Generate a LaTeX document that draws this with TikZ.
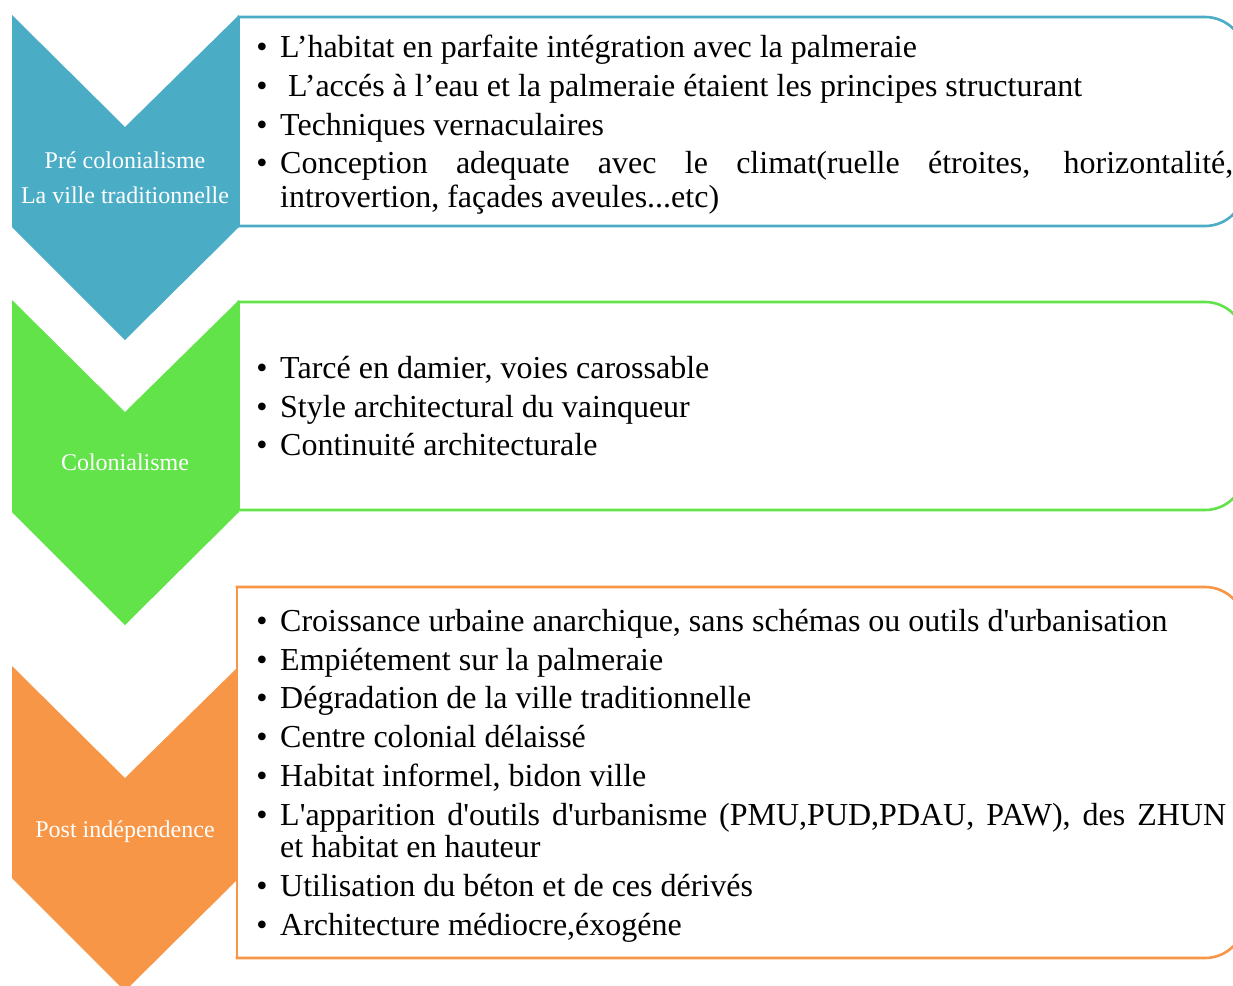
\documentclass[tikz,border=0pt]{standalone}
\usepackage{fontspec}
\setmainfont{Liberation Serif}
\definecolor{cblue}{HTML}{4BACC6}
\definecolor{cgreen}{HTML}{62E34A}
\definecolor{corange}{HTML}{F79646}
\tikzset{
  boxline/.style={draw=#1,line width=2.6pt},
  item/.style={anchor=base west,inner sep=0pt,font=\fontsize{32}{36}\selectfont},
  bul/.style={anchor=base,inner sep=0pt,font=\fontsize{32}{36}\selectfont},
  lab/.style={text=white,inner sep=0pt,font=\fontsize{24}{28}\selectfont}
}
\newcommand\itm[3]{\node[bul] (#1b) at (262,#2) {•}; \node[item] (#1) at (280,#2) {#3};}
\newcommand\tlbox[4]{%
  \fill[white] (#2,#3) rectangle (1245,#4);
  \draw[boxline=#1,rounded corners=40pt,line cap=rect] (#2,#3) -- (1245,#3) -- (1245,#4) -- (#2,#4);
  \draw[boxline=#1,line cap=rect] (#2,#4) -- (#2,#3);}
\begin{document}
\begin{tikzpicture}[x=1pt,y=-1pt]
\useasboundingbox (0,0) rectangle (1233,985);
\clip (0,0) rectangle (1233,985);
% chevrons
\fill[cblue] (12,15) -- (125,127) -- (239,15) -- (239,227) -- (125,340) -- (12,227) -- cycle;
\fill[cgreen] (12,300) -- (125,412) -- (239,300) -- (239,512) -- (125,625) -- (12,512) -- cycle;
\fill[corange] (12,666) -- (125,778) -- (239,666) -- (239,878) -- (125,991) -- (12,878) -- cycle;
% boxes
\tlbox{cblue}{239}{17}{226}
\tlbox{cgreen}{239}{302}{510}
\tlbox{corange}{237}{587}{958}
% labels
\node[lab] (l1a) at (125,160) {Pré colonialisme};
\node[lab] (l1b) at (125,195) {La ville traditionnelle};
\node[lab] (l2) at (125,462) {Colonialisme};
\node[lab] (l3) at (125,832) {Post indépendence};
% box 1
\itm{a1}{57}{L’habitat en parfaite intégration avec la palmeraie}
\itm{a2}{96}{\ L’accés à l’eau et la palmeraie étaient les principes structurant}
\itm{a3}{135}{Techniques vernaculaires}
\itm{a4}{173}{\makebox[953pt][s]{Conception adequate avec le climat(ruelle étroites, horizontalité,}}
\node[item] (a4x) at (280,207) {introvertion, façades aveules...etc)};
% box 2
\itm{g1}{378}{Tarcé en damier, voies carossable}
\itm{g2}{417}{Style architectural du vainqueur}
\itm{g3}{455}{Continuité architecturale}
% box 3
\itm{o1}{631}{Croissance urbaine anarchique, sans schémas ou outils d\textquotesingle urbanisation}
\itm{o2}{670}{Empiétement sur la palmeraie}
\itm{o3}{708}{Dégradation de la ville traditionnelle}
\itm{o4}{747}{Centre colonial délaissé}
\itm{o5}{786}{Habitat informel, bidon ville}
\itm{o6}{825}{\makebox[946pt][s]{L\textquotesingle apparition d\textquotesingle outils d\textquotesingle urbanisme (PMU,PUD,PDAU, PAW), des ZHUN}}
\node[item] (o6x) at (280,857) {et habitat en hauteur};
\itm{o7}{896}{Utilisation du béton et de ces dérivés}
\itm{o8}{935}{Architecture médiocre,éxogéne}
\end{tikzpicture}
\end{document}
